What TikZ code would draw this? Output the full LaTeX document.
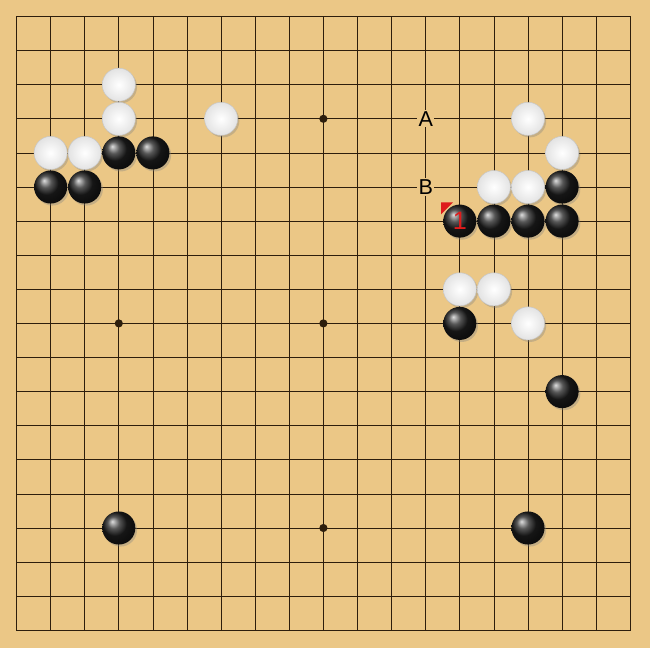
\documentclass[tikz,border=0pt]{standalone}
\usepackage{fontspec}
\setsansfont{Liberation Sans}
\usetikzlibrary{shadows}
\definecolor{boardwood}{RGB}{235,199,134}
\definecolor{gridline}{RGB}{45,30,12}
\definecolor{movered}{RGB}{222,28,28}
\tikzset{
  stone/.style={circle, minimum size=0.97cm, inner sep=0pt,
    drop shadow={shadow xshift=0.05, shadow yshift=-0.06, opacity=0.35}},
  whitestone/.style={stone, shading=radial, inner color=white, outer color=gray!22, draw=gray!45, thin},
  blackstone/.style={stone, ball color=black!88},
  pointlabel/.style={fill=boardwood, inner sep=1pt, font=\sffamily\fontsize{18}{18}\selectfont}
}
\newcommand{\whitestone}[2] {\node [whitestone] (w-#1-#2) at (#1,-#2) {};}
\newcommand{\blackstone}[2] {\node [blackstone] (b-#1-#2) at (#1,-#2) {};}
\newcommand{\starpoint}[2] {\fill [gridline] (#1,-#2) circle (0.12);}
\newcommand{\pointlabel}[3] {\node [pointlabel] (#3) at (#1,-#2) {#3};}

\begin{document}
\begin{tikzpicture}
\useasboundingbox [fill=boardwood] (-0.484,0.484) rectangle (18.578,-18.52);

% grid
\foreach \i in {0,...,18} {
  \draw [gridline, line width=0.65pt] (\i,0) -- (\i,-18);
  \draw [gridline, line width=0.65pt] (0,-\i) -- (18,-\i);
}
\draw [gridline, line width=1.3pt] (0,0) rectangle (18,-18);

\foreach \x in {3,9,15}
  \foreach \y in {3,9,15}
    \starpoint {\x}{\y};

% last move marker, under the stone
\fill [movered] (12.45,-5.45) -- (12.8,-5.45) -- (12.45,-5.8) -- cycle;

% white stones
\whitestone {3}{2};
\whitestone {3}{3};
\whitestone {6}{3};
\whitestone {1}{4};
\whitestone {2}{4};
\whitestone {15}{3};
\whitestone {16}{4};
\whitestone {14}{5};
\whitestone {15}{5};
\whitestone {13}{8};
\whitestone {14}{8};
\whitestone {15}{9};

% black stones
\blackstone {3}{4};
\blackstone {4}{4};
\blackstone {1}{5};
\blackstone {2}{5};
\blackstone {16}{5};
\blackstone {13}{6};
\blackstone {14}{6};
\blackstone {15}{6};
\blackstone {16}{6};
\blackstone {13}{9};
\blackstone {16}{11};
\blackstone {3}{15};
\blackstone {15}{15};

\node [text=movered, font=\sffamily\fontsize{21}{21}\selectfont] (move1) at (b-13-6) {1};

% labels
\pointlabel {12}{3}{A};
\pointlabel {12}{5}{B};

\end{tikzpicture}
\end{document}
